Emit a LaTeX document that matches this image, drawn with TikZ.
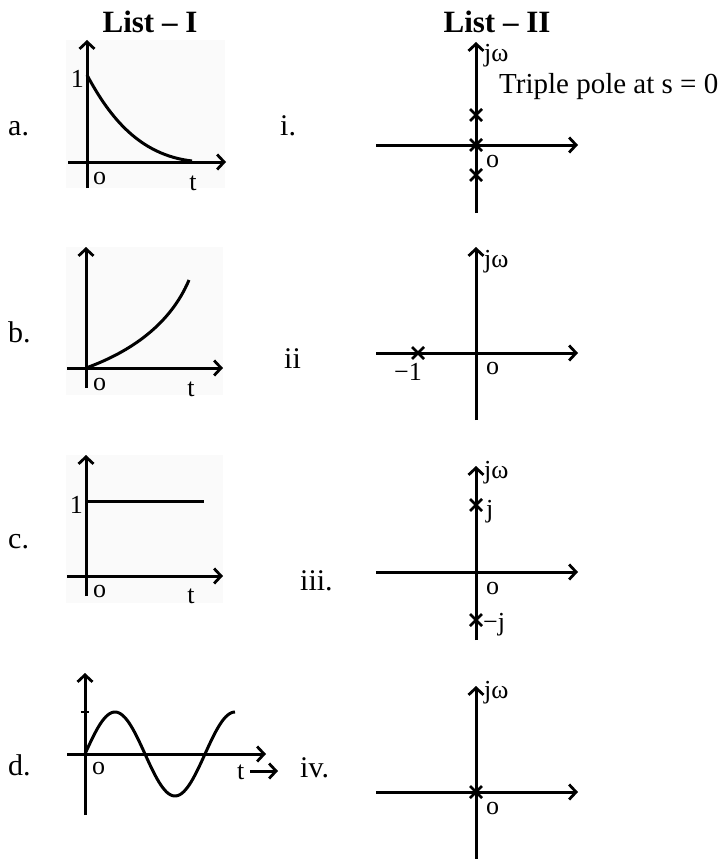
\documentclass[tikz,border=0pt]{standalone}
\usepackage{fontspec}
\setmainfont{Liberation Serif}
\usetikzlibrary{arrows.meta}
\begin{document}
\begin{tikzpicture}[x=1pt,y=-1pt,
  ax/.style={line width=3pt,-{Straight Barb[length=7pt,width=15pt,line width=2.8pt]}},
  crv/.style={line width=3pt},
  head/.style={font=\fontsize{31}{36}\selectfont\bfseries,inner sep=0pt},
  lbl/.style={font=\fontsize{30}{36}\selectfont,inner sep=0pt,anchor=base west},
  tpl/.style={font=\fontsize{29}{34}\selectfont,inner sep=0pt,anchor=base west},
  sml/.style={font=\fontsize{26}{30}\selectfont,inner sep=0pt},
  bgbox/.style={fill=black!2,draw=none},
  pole/.style={line width=2.6pt}
]
\useasboundingbox (0,0) rectangle (722,859);
\fill[white] (0,0) rectangle (722,859);

% headings
\node[head,anchor=base] (h1) at (150,33) {List -- I};
\node[head,anchor=base] (h2) at (497,33) {List -- II};

% ---------- Graph a ----------
\fill[bgbox] (66,40) rectangle (225,188);
\coordinate (aT) at (87,40);
\coordinate (aB) at (87,188);
\coordinate (aL) at (68,162);
\coordinate (aR) at (226,162);
\draw[ax] (aB) -- (aT);
\draw[ax] (aL) -- (aR);
\draw[crv] (87,75) .. controls (110,118) and (140,155) .. (192,161);
\node[sml,anchor=base east] (a1) at (84,88) {1};
\node[sml,anchor=base west] (ao) at (93,184) {o};
\node[sml,anchor=base] (at) at (193,190) {t};
\node[lbl] (la) at (8,135) {a.};

% ---------- Graph b ----------
\fill[bgbox] (66,247) rectangle (223,395);
\coordinate (bT) at (86,247);
\coordinate (bB) at (86,388);
\coordinate (bL) at (67,368);
\coordinate (bR) at (223,368);
\draw[ax] (bB) -- (bT);
\draw[ax] (bL) -- (bR);
\draw[crv] (86,368) .. controls (130,352) and (170,325) .. (189,280);
\node[sml,anchor=base west] (bo) at (93,390) {o};
\node[sml,anchor=base] (bt) at (191,396) {t};
\node[lbl] (lb) at (8,342) {b.};

% ---------- Graph c ----------
\fill[bgbox] (66,455) rectangle (223,603);
\coordinate (cT) at (86,455);
\coordinate (cB) at (86,596);
\coordinate (cL) at (67,576);
\coordinate (cR) at (223,576);
\draw[ax] (cB) -- (cT);
\draw[ax] (cL) -- (cR);
\draw[crv] (86,501) -- (204,501);
\node[sml,anchor=base east] (c1) at (83,513) {1};
\node[sml,anchor=base west] (co) at (93,597) {o};
\node[sml,anchor=base] (ct) at (191,603) {t};
\node[lbl] (lc) at (8,548) {c.};

% ---------- Graph d ----------
\coordinate (dT) at (85,673);
\coordinate (dB) at (85,815);
\coordinate (dL) at (67,754);
\coordinate (dR) at (266,754);
\draw[ax] (dB) -- (dT);
\draw[ax] (dL) -- (dR);
\draw[line width=2.6pt] (81,712) -- (89,712);
\draw[crv] plot[domain=0:150,samples=80,smooth] ({85+\x},{754-42*sin(3*\x)});
\node[sml,anchor=base west] (do) at (92,774) {o};
\node[sml,anchor=base west] (dt) at (237,779) {t};
\coordinate (dA1) at (250,771);
\coordinate (dA2) at (278,771);
\draw[ax] (dA1) -- (dA2);
\node[lbl] (ld) at (8,775) {d.};

% ---------- Graph i ----------
\coordinate (iT) at (476,42);
\coordinate (iB) at (476,213);
\coordinate (iL) at (376,145);
\coordinate (iR) at (578,145);
\draw[ax] (iB) -- (iT);
\draw[ax] (iL) -- (iR);
\foreach \yy in {115,145,175}{
  \draw[pole] (470,\yy-6) -- (482,\yy+6) (470,\yy+6) -- (482,\yy-6);
}
\node[sml,anchor=base west] (ijw) at (484,62) {jω};
\node[sml,anchor=base west] (io) at (486,167) {o};
\node[tpl] (tp) at (499,93) {Triple pole at s = 0};
\node[lbl] (li) at (280,135) {i.};

% ---------- Graph ii ----------
\coordinate (iiT) at (476,247);
\coordinate (iiB) at (476,420);
\coordinate (iiL) at (376,353);
\coordinate (iiR) at (578,353);
\draw[ax] (iiB) -- (iiT);
\draw[ax] (iiL) -- (iiR);
\draw[pole] (412,347) -- (424,359) (412,359) -- (424,347);
\node[sml,anchor=base] (iim1) at (408,380) {−1};
\node[sml,anchor=base west] (iio) at (486,374) {o};
\node[sml,anchor=base west] (iijw) at (484,267) {jω};
\node[lbl] (lii) at (284,368) {ii};

% ---------- Graph iii ----------
\coordinate (iiiT) at (476,466);
\coordinate (iiiB) at (476,640);
\coordinate (iiiL) at (376,572);
\coordinate (iiiR) at (578,572);
\draw[ax] (iiiB) -- (iiiT);
\draw[ax] (iiiL) -- (iiiR);
\draw[pole] (470,499) -- (482,511) (470,511) -- (482,499);
\draw[pole] (470,614) -- (482,626) (470,626) -- (482,614);
\node[sml,anchor=base west] (iiijw) at (484,478) {jω};
\node[sml,anchor=base west] (iiij) at (486,517) {j};
\node[sml,anchor=base west] (iiimj) at (483,630) {−j};
\node[sml,anchor=base west] (iiio) at (486,594) {o};
\node[lbl] (liii) at (300,590) {iii.};

% ---------- Graph iv ----------
\coordinate (ivT) at (476,686);
\coordinate (ivB) at (476,859);
\coordinate (ivL) at (376,792);
\coordinate (ivR) at (578,792);
\draw[ax] (ivB) -- (ivT);
\draw[ax] (ivL) -- (ivR);
\draw[pole] (470,786) -- (482,798) (470,798) -- (482,786);
\node[sml,anchor=base west] (ivjw) at (484,698) {jω};
\node[sml,anchor=base west] (ivo) at (486,814) {o};
\node[lbl] (liv) at (300,777) {iv.};
\end{tikzpicture}
\end{document}
